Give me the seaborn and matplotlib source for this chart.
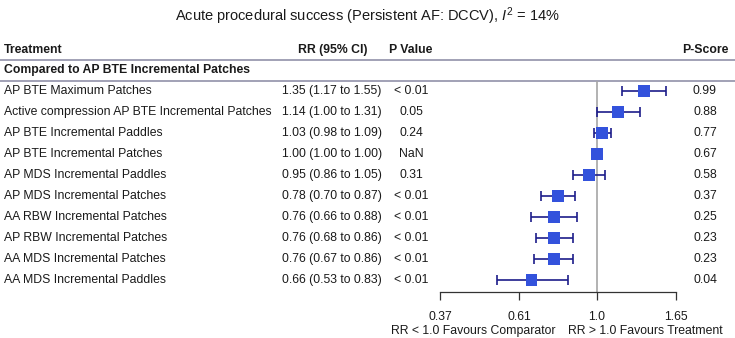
import numpy as np
import pandas as pd
import seaborn as sns
import matplotlib.pyplot as plt

# DATA
treatments = [
    "AP BTE Maximum Patches",
    "Active compression AP BTE Incremental Patches",
    "AP BTE Incremental Paddles",
    "AP BTE Incremental Patches",
    "AP MDS Incremental Paddles",
    "AP MDS Incremental Patches",
    "AA RBW Incremental Patches",
    "AP RBW Incremental Patches",
    "AA MDS Incremental Patches",
    "AA MDS Incremental Paddles",
]
rr = [1.35, 1.14, 1.03, 1.00, 0.95, 0.78, 0.76, 0.76, 0.76, 0.66]
ci_low = [1.17, 1.00, 0.98, 1.00, 0.86, 0.70, 0.66, 0.68, 0.67, 0.53]
ci_high = [1.55, 1.31, 1.09, 1.00, 1.05, 0.87, 0.88, 0.86, 0.86, 0.83]
p_values = ["< 0.01", "0.05", "0.24", "NaN", "0.31", "< 0.01", "< 0.01", "< 0.01", "< 0.01", "< 0.01"]
p_scores = ["0.99", "0.88", "0.77", "0.67", "0.58", "0.37", "0.25", "0.23", "0.23", "0.04"]
x_ticks = [0.37, 0.61, 1.0, 1.65]
x_tick_labels = ["0.37", "0.61", "1.0", "1.65"]

title = "Acute procedural success (Persistent AF: DCCV), $I^2$ = 14%"
group_label = "Compared to AP BTE Incremental Patches"

# PLOT SETTING
sns.set_style("white")
plt.rcParams["font.family"] = ["Liberation Sans", "DejaVu Sans"]
plt.rcParams["mathtext.fontset"] = "custom"
plt.rcParams["mathtext.rm"] = "Liberation Sans"
plt.rcParams["mathtext.it"] = "Liberation Sans:italic"

W, H = 735, 338
fig = plt.figure(figsize=(W / 100, H / 100), dpi=100)

# text layer in pixel coordinates
tax = fig.add_axes([0, 0, 1, 1])
tax.set_xlim(0, W)
tax.set_ylim(H, 0)
tax.axis("off")

txt = "#1a1a1a"
fs = 8.85
row_y0, row_dy = 91, 21.0

tax.text(W / 2, 16, title, ha="center", va="center", fontsize=10.5, color=txt)

head_y = 50
tax.text(4, head_y, "Treatment", ha="left", va="center", fontsize=fs, fontweight="bold", color=txt)
tax.text(333, head_y, "RR (95% CI)", ha="center", va="center", fontsize=fs, fontweight="bold", color=txt)
tax.text(411, head_y, "P Value", ha="center", va="center", fontsize=fs, fontweight="bold", color=txt)
tax.text(705, head_y, "P-Score", ha="center", va="center", fontsize=fs, fontweight="bold", color=txt)
tax.text(4, 70.5, group_label, ha="left", va="center", fontsize=fs, fontweight="bold", color=txt)

line_col = "#9a9ab0"
tax.plot([0, W], [60, 60], color=line_col, lw=1.3, solid_capstyle="butt")
tax.plot([0, W], [81, 81], color=line_col, lw=1.3, solid_capstyle="butt")

for i, name in enumerate(treatments):
    y = row_y0 + row_dy * i
    est = "{:.2f} ({:.2f} to {:.2f})".format(rr[i], ci_low[i], ci_high[i])
    tax.text(4, y, name, ha="left", va="center", fontsize=fs, color=txt)
    tax.text(332, y, est, ha="center", va="center", fontsize=fs, color=txt)
    tax.text(411, y, p_values[i], ha="center", va="center", fontsize=fs, color=txt)
    tax.text(705, y, p_scores[i], ha="center", va="center", fontsize=fs, color=txt)

tax.text(556, 331, "RR < 1.0 Favours Comparator", ha="right", va="center", fontsize=fs, color=txt)
tax.text(568, 331, "RR > 1.0 Favours Treatment", ha="left", va="center", fontsize=fs, color=txt)

# FOREST PANEL
left_px, right_px, top_px, bot_px = 420, 700, 81, 292
fax = fig.add_axes([left_px / W, (H - bot_px) / H, (right_px - left_px) / W, (bot_px - top_px) / H])
fax.patch.set_alpha(0)
fax.set_xscale("log")
px_per_ln = (676 - 597) / np.log(1.65)
fax.set_xlim(np.exp((left_px - 597) / px_per_ln), np.exp((right_px - 597) / px_per_ln))
fax.set_ylim((bot_px - row_y0) / row_dy, (top_px - row_y0) / row_dy)

df = pd.DataFrame({"treatment": treatments, "rr": rr, "lo": ci_low, "hi": ci_high,
                   "row": np.arange(len(treatments))})

fax.axvline(1.0, color="#a6a6a6", lw=1.2, zorder=1)
fax.errorbar(df["rr"], df["row"], xerr=[df["rr"] - df["lo"], df["hi"] - df["rr"]],
             fmt="none", ecolor="#1c1c8a", elinewidth=1.2, capsize=3.4, capthick=1.2, zorder=2)
sns.scatterplot(data=df, x="rr", y="row", marker="s", s=72, color="#3352dc",
                edgecolor="none", linewidth=0, ax=fax, zorder=3)

for side in ["top", "right", "left"]:
    fax.spines[side].set_visible(False)
fax.spines["bottom"].set_color("#333333")
fax.spines["bottom"].set_linewidth(0.9)
fax.spines["bottom"].set_bounds(x_ticks[0], x_ticks[-1])
fax.set_yticks([])
fax.set_xticks(x_ticks)
fax.set_xticklabels(x_tick_labels, fontsize=fs, color=txt)
fax.xaxis.set_minor_locator(plt.NullLocator())
fax.tick_params(axis="x", direction="out", length=6, width=0.9, color="#333333", pad=8, bottom=True)
fax.set_xlabel("")
fax.set_ylabel("")

plt.savefig("out.png", dpi=100)
plt.close()
